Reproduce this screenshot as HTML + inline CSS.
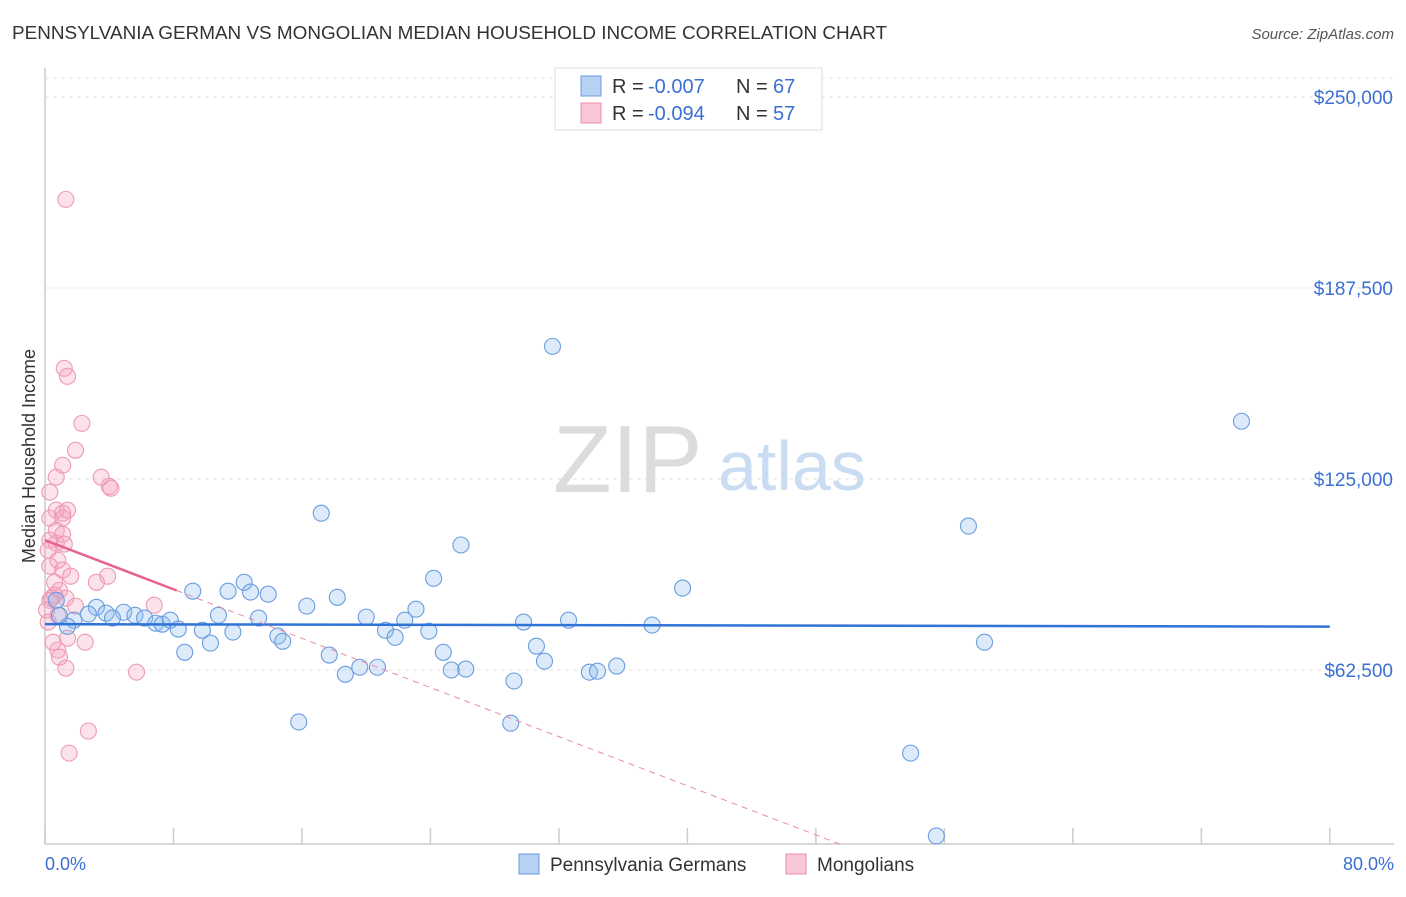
<!DOCTYPE html>
<html><head><meta charset="utf-8"><style>
body{margin:0;background:#fff;font-family:"Liberation Sans",sans-serif;}
svg text{font-family:"Liberation Sans",sans-serif;}
</style></head><body>
<svg id="chart" width="1406" height="892" viewBox="0 0 1406 892" xmlns="http://www.w3.org/2000/svg">
<text x="12" y="39" font-size="18.9" fill="#333">PENNSYLVANIA GERMAN VS MONGOLIAN MEDIAN HOUSEHOLD INCOME CORRELATION CHART</text>
<text x="1394" y="39" font-size="15" fill="#555" font-style="italic" text-anchor="end">Source: ZipAtlas.com</text>
<g id="grid"></g>
<g><text x="553" y="492" font-size="96" fill="#dcdcdc" font-family="Liberation Serif">ZIP</text><text x="718" y="490" font-size="70" fill="#c9dcf2">atlas</text></g>
<g id="marks"></g>
<text x="35" y="456" font-size="18" fill="#333" transform="rotate(-90 35 456)" text-anchor="middle">Median Household Income</text>
<text x="45" y="870" font-size="18" fill="#3b6fd4">0.0%</text>
<text x="1394" y="870" font-size="18" fill="#3b6fd4" text-anchor="end">80.0%</text>
<g>
<rect x="555" y="68" width="267" height="62" fill="#fff" stroke="#ddd"/>
<rect x="581" y="76" width="20" height="20" fill="#b7d1f3" stroke="#6d9be0"/>
<rect x="581" y="103" width="20" height="20" fill="#f9c6d6" stroke="#ea8fab"/>
<text x="612" y="93" font-size="20" fill="#333">R =</text>
<text x="648" y="93" font-size="20" fill="#3b6fd4">-0.007</text>
<text x="736" y="93" font-size="20" fill="#333">N =</text>
<text x="773" y="93" font-size="20" fill="#3b6fd4">67</text>
<text x="612" y="120" font-size="20" fill="#333">R =</text>
<text x="648" y="120" font-size="20" fill="#3b6fd4">-0.094</text>
<text x="736" y="120" font-size="20" fill="#333">N =</text>
<text x="773" y="120" font-size="20" fill="#3b6fd4">57</text>
</g>
<g>
<rect x="519" y="854" width="20" height="20" fill="#b7d1f3" stroke="#6d9be0"/>
<text x="550" y="871" font-size="19" fill="#333">Pennsylvania Germans</text>
<rect x="786" y="854" width="20" height="20" fill="#f9c6d6" stroke="#ea8fab"/>
<text x="817" y="871" font-size="19" fill="#333">Mongolians</text>
</g>
</svg>
<script>
const yTicks=[62500,125000,187500,250000];
const yTickLabels=["$62,500","$125,000","$187,500","$250,000"];
const xTicks=[0,8,16,24,32,40,48,56,64,72,80];
const blueX=[31.6,74.5,17.2,57.5,25.9,24.2,39.7,12.4,9.2,12.8,13.9,11.4,18.2,23.1,16.3,3.2,4.9,5.6,3.8,2.7,1.8,1.4,4.2,6.2,6.9,7.3,7.8,10.8,13.3,20.0,22.4,29.8,32.6,37.8,8.3,9.8,11.7,21.2,21.8,23.9,14.5,14.8,30.6,8.7,10.3,17.7,24.8,31.1,19.6,20.7,25.3,26.2,18.7,33.9,34.4,35.6,29.2,58.5,15.8,29.0,53.9,55.5,0.7,0.9];
const blueY=[168.4,143.9,113.8,109.6,103.4,92.5,89.3,91.2,88.3,88.0,87.3,88.3,86.3,82.4,83.4,83.0,81.4,80.4,81.1,80.8,78.8,76.8,79.5,79.5,77.8,77.5,78.8,80.4,79.5,79.8,78.8,78.2,78.8,77.2,75.9,75.5,74.9,75.5,73.2,75.2,73.6,71.9,70.3,68.3,71.3,67.4,68.3,65.4,63.4,63.4,62.5,62.8,61.1,61.8,62.1,63.8,58.9,71.6,45.5,45.1,35.3,8.2,85.3,80.4];
const pinkX=[1.3,1.2,1.4,2.3,1.9,1.1,0.7,3.5,4.0,4.1,0.3,0.7,1.4,1.1,0.3,1.1,0.7,1.1,0.3,0.7,1.2,0.2,0.8,0.3,1.1,1.6,3.9,3.2,0.6,0.9,1.3,0.4,1.9,6.8,0.8,0.2,1.4,0.5,2.5,0.8,0.9,1.3,5.7,2.7,1.5,0.3,0.6,0.1];
const pinkY=[216.5,161.2,158.6,143.2,134.4,129.5,125.6,125.6,122.6,122.0,120.7,114.8,114.8,113.8,112.2,112.2,108.2,106.9,105.0,104.0,103.7,101.7,98.4,96.5,95.2,93.2,93.2,91.2,91.2,88.6,86.0,86.0,83.4,83.7,80.4,78.2,72.9,71.6,71.6,69.0,66.7,63.1,61.8,42.5,35.3,85.3,87.0,82.1];
const blueTrend=[77.5,-0.01];
const pinkTrend=[105,-2.01];
const pinkSolidEnd=8.2;
const NS="http://www.w3.org/2000/svg";
const xs=p=>45+p*16.06;
const ys=k=>861-k*1000*191/62500;
const yFloor=(861-844)*62.5/191;
function mk(t,a,parent){const e=document.createElementNS(NS,t);for(const k in a)e.setAttribute(k,a[k]);parent.appendChild(e);return e;}
const gridG=document.getElementById('grid'),marksG=document.getElementById('marks');
const ax=mk('line',{x1:45,y1:68,x2:45,y2:844,stroke:'#ccc','stroke-width':1.5},gridG);


const bx=mk('line',{x1:45,y1:844,x2:1394,y2:844,stroke:'#ccc','stroke-width':1.5},gridG);


const topLine=mk('line',{x1:45,y1:78,x2:1394,y2:78,stroke:'#e2e2e2','stroke-dasharray':'4,4'},gridG);


yTicks.forEach((v,i)=>{const y=ys(v/1000);
const g=mk('line',{x1:45,y1:y,x2:1394,y2:y,stroke:'#e2e2e2','stroke-dasharray':'4,4'},gridG);


const t=mk('text',{x:1393,y:y+7,'font-size':19,fill:'#3b6fd4','text-anchor':'end'},gridG);t.textContent=yTickLabels[i];

});
xTicks.forEach(p=>{const x=xs(p);
const t=mk('line',{x1:x,y1:828,x2:x,y2:844,stroke:'#ccc','stroke-width':1.5},gridG);

});
pinkX.forEach((p,i)=>{const c=mk('circle',{cx:xs(p),cy:ys(pinkY[i]),r:8,fill:'rgba(244,160,188,0.3)',stroke:'#ee9ab4','stroke-width':1.1},marksG);

});
blueX.forEach((p,i)=>{const c=mk('circle',{cx:xs(p),cy:ys(blueY[i]),r:8,fill:'rgba(140,185,236,0.3)',stroke:'#6a9de0','stroke-width':1.1},marksG);

});
const bl=mk('line',{x1:xs(0),y1:ys(blueTrend[0]),x2:xs(80),y2:ys(blueTrend[0]+blueTrend[1]*80),stroke:'#2f74d6','stroke-width':2.5},marksG);


const pEnd=(yFloor-pinkTrend[0])/pinkTrend[1];
const pd=mk('line',{x1:xs(pinkSolidEnd),y1:ys(pinkTrend[0]+pinkTrend[1]*pinkSolidEnd),x2:xs(pEnd),y2:ys(yFloor),stroke:'#e88aa6','stroke-width':1,'stroke-dasharray':'6,5'},marksG);


const ps=mk('line',{x1:xs(0),y1:ys(pinkTrend[0]),x2:xs(pinkSolidEnd),y2:ys(pinkTrend[0]+pinkTrend[1]*pinkSolidEnd),stroke:'#e8628b','stroke-width':2.5},marksG);


</script>
</body></html>
